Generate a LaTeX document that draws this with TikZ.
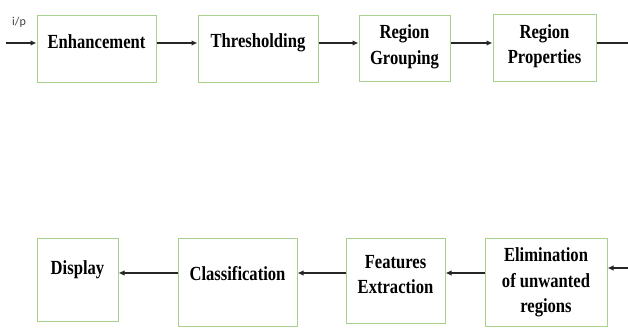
\documentclass[tikz,border=0pt]{standalone}
\usepackage{fontspec}
\setmainfont{Liberation Serif}[FakeStretch=0.83]
\newfontfamily\ipfont{Carlito}
\usetikzlibrary{arrows.meta, positioning}
\definecolor{cgreen}{HTML}{A9D18E}
\definecolor{cline}{HTML}{262626}
\definecolor{cgrey}{HTML}{404040}
\tikzset{
  every picture/.style={x=1pt, y=1pt},
  box/.style 2 args={draw=cgreen, line width=1pt, minimum width=#1, minimum height=#2, inner sep=0pt},
  txt/.style={font=\bfseries\fontsize{20}{25.5}\selectfont, align=center, inner sep=0pt},
  arrow/.style={-{Latex[length=6pt, width=5.5pt]}, draw=cline, line width=1.3pt},
  link/.style={draw=cline, line width=1.3pt},
  iplabel/.style={font=\ipfont\fontsize{12}{14}\selectfont, text=cgrey, inner sep=0pt},
}

\begin{document}
\begin{tikzpicture}
  \useasboundingbox (0,0) rectangle (628,327);
  % rows of the flow
  \coordinate (toprow) at (0,284);
  \coordinate (botrow) at (0,54);
  % top row
  \node[box={119}{67}] (enh) at (96.5,277.5) {};
  \node[box={120}{67}] (thr) at (258,277.5) {};
  \node[box={91}{66}] (grp) at (404.5,278) {};
  \node[box={103}{67}] (prop) at (544.5,278.5) {};
  \node[txt] (enh-t) at (96.5,285) {Enhancement};
  \node[txt] (thr-t) at (258,284) {Thresholding};
  \node[txt] (grp-t) at (404.5,280) {Region\\Grouping};
  \node[txt] (prop-t) at (544.5,281) {Region\\Properties};
  % bottom row
  \node[box={81}{83}] (disp) at (77.5,47.5) {};
  \node[box={119}{88}] (cls) at (237.5,45) {};
  \node[box={99}{85}] (feat) at (395.5,46.5) {};
  \node[box={122}{88}] (elim) at (546,45) {};
  \node[txt] (disp-t) at (77.5,57) {Display};
  \node[txt] (cls-t) at (237.5,53) {Classification};
  \node[txt] (feat-t) at (395.5,52.5) {Features\\Extraction};
  \node[txt] (elim-t) at (546,44.5) {Elimination\\of unwanted\\regions};
  % input and links
  \coordinate (in) at (6,284);
  \coordinate (out) at (628,284);
  \coordinate (back) at (628,59);
  \node[iplabel] (ip) at (19,305) {i/p};
  \draw[arrow] (in) -- (enh.west |- toprow);
  \draw[arrow] (enh.east |- toprow) -- (thr.west |- toprow);
  \draw[arrow] (thr.east |- toprow) -- (grp.west |- toprow);
  \draw[arrow] (grp.east |- toprow) -- (prop.west |- toprow);
  \draw[link] (prop.east |- toprow) -- (out);
  \draw[arrow] (back) -- (elim.east |- back);
  \draw[arrow] (elim.west |- botrow) -- (feat.east |- botrow);
  \draw[arrow] (feat.west |- botrow) -- (cls.east |- botrow);
  \draw[arrow] (cls.west |- botrow) -- (disp.east |- botrow);
\end{tikzpicture}
\end{document}
